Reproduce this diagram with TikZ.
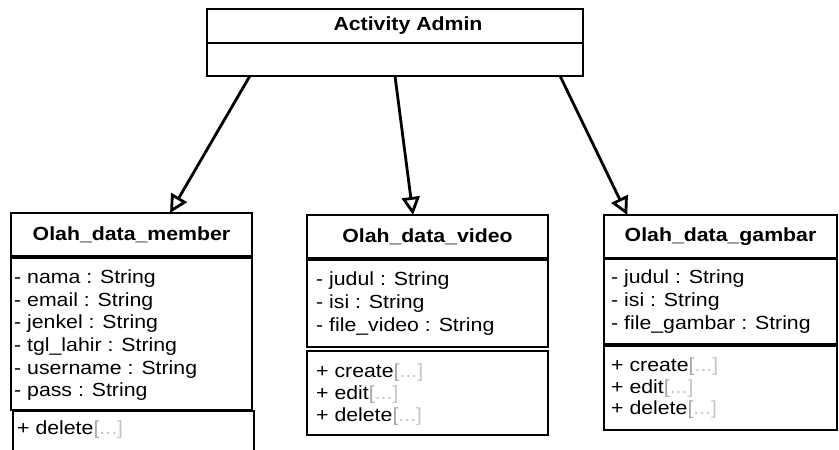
\documentclass[tikz,border=0pt]{standalone}
\usepackage{fontspec}
\setmainfont[FakeStretch=1.12]{Liberation Sans}
\usetikzlibrary{arrows.meta,calc}
\newcommand\grdots{\textcolor{gray!70}{[}\textcolor{gray!45}{...]}}
\begin{document}
\begin{tikzpicture}[x=1pt,y=-1pt,font=\fontsize{19}{22.6}\selectfont,
  box/.style={draw, line width=2.8pt, anchor=north west, inner sep=0pt, outer sep=0pt},
  actbox/.style={box, line width=1.8pt, minimum width=376pt},
  title/.style={font=\fontsize{19}{22}\selectfont\bfseries, inner sep=0pt},
  item/.style={anchor=base west, inner sep=0pt},
  arr/.style={line width=2.8pt, -{Triangle[open, length=18pt, width=18pt]}}]
\clip (0,0) rectangle (839,450);
\useasboundingbox (0,0) rectangle (839,450);
% Activity Admin
\node[actbox, minimum height=34pt] (act) at (207,9) {};
\node[title] (acttitle) at (408,26) {Activity Admin};
\node[actbox, minimum height=33pt] (actb) at (207,43) {};
% member
\node[box, minimum width=241pt, minimum height=43pt] (mh) at (11,213) {};
\node[title] (mht) at (mh.center) {Olah\_data\_member};
\node[box, minimum width=241pt, minimum height=152pt] (ma) at (11,258) {};
\node[box, minimum width=241pt, minimum height=60pt] (mm) at (13,411) {};
\node[item] (m1) at (14,283) {- nama : String};
\node[item] (m2) at (14,306) {- email : String};
\node[item] (m3) at (14,328) {- jenkel : String};
\node[item] (m4) at (14,351) {- tgl\_lahir : String};
\node[item] (m5) at (14,374) {- username : String};
\node[item] (m6) at (14,396) {- pass : String};
\node[item] (m7) at (17,434) {+ delete\grdots};
% video
\node[box, minimum width=241pt, minimum height=43pt] (vh) at (307,215) {};
\node[title] (vht) at (vh.center) {Olah\_data\_video};
\node[box, minimum width=241pt, minimum height=87pt] (va) at (307,260) {};
\node[box, minimum width=241pt, minimum height=84pt] (vm) at (307,351) {};
\node[item] (v1) at (316,285) {- judul : String};
\node[item] (v2) at (316,308) {- isi : String};
\node[item] (v3) at (316,331) {- file\_video : String};
\node[item] (v4) at (316,377) {+ create\grdots};
\node[item] (v5) at (316,399) {+ edit\grdots};
\node[item] (v6) at (316,421) {+ delete\grdots};
% gambar
\node[box, minimum width=233pt, minimum height=43pt] (gh) at (604,215) {};
\node[title] (ght) at (gh.center) {Olah\_data\_gambar};
\node[box, minimum width=233pt, minimum height=85pt] (ga) at (604,259) {};
\node[box, minimum width=233pt, minimum height=84pt] (gm) at (604,346) {};
\node[item] (g1) at (611,283) {- judul : String};
\node[item] (g2) at (611,306) {- isi : String};
\node[item] (g3) at (611,329) {- file\_gambar : String};
\node[item] (g4) at (611,371) {+ create\grdots};
\node[item] (g5) at (611,393) {+ edit\grdots};
\node[item] (g6) at (611,414) {+ delete\grdots};
% arrows
\draw[arr] ($(actb.south west)!0.114!(actb.south east)$) -- ($(mh.north west)!0.66!(mh.north east)$);
\draw[arr] ($(actb.south west)!0.5!(actb.south east)$) -- ($(vh.north west)!0.44!(vh.north east)$);
\draw[arr] ($(actb.south west)!0.939!(actb.south east)$) -- ($(gh.north west)!0.1!(gh.north east)$);
\end{tikzpicture}
\end{document}
